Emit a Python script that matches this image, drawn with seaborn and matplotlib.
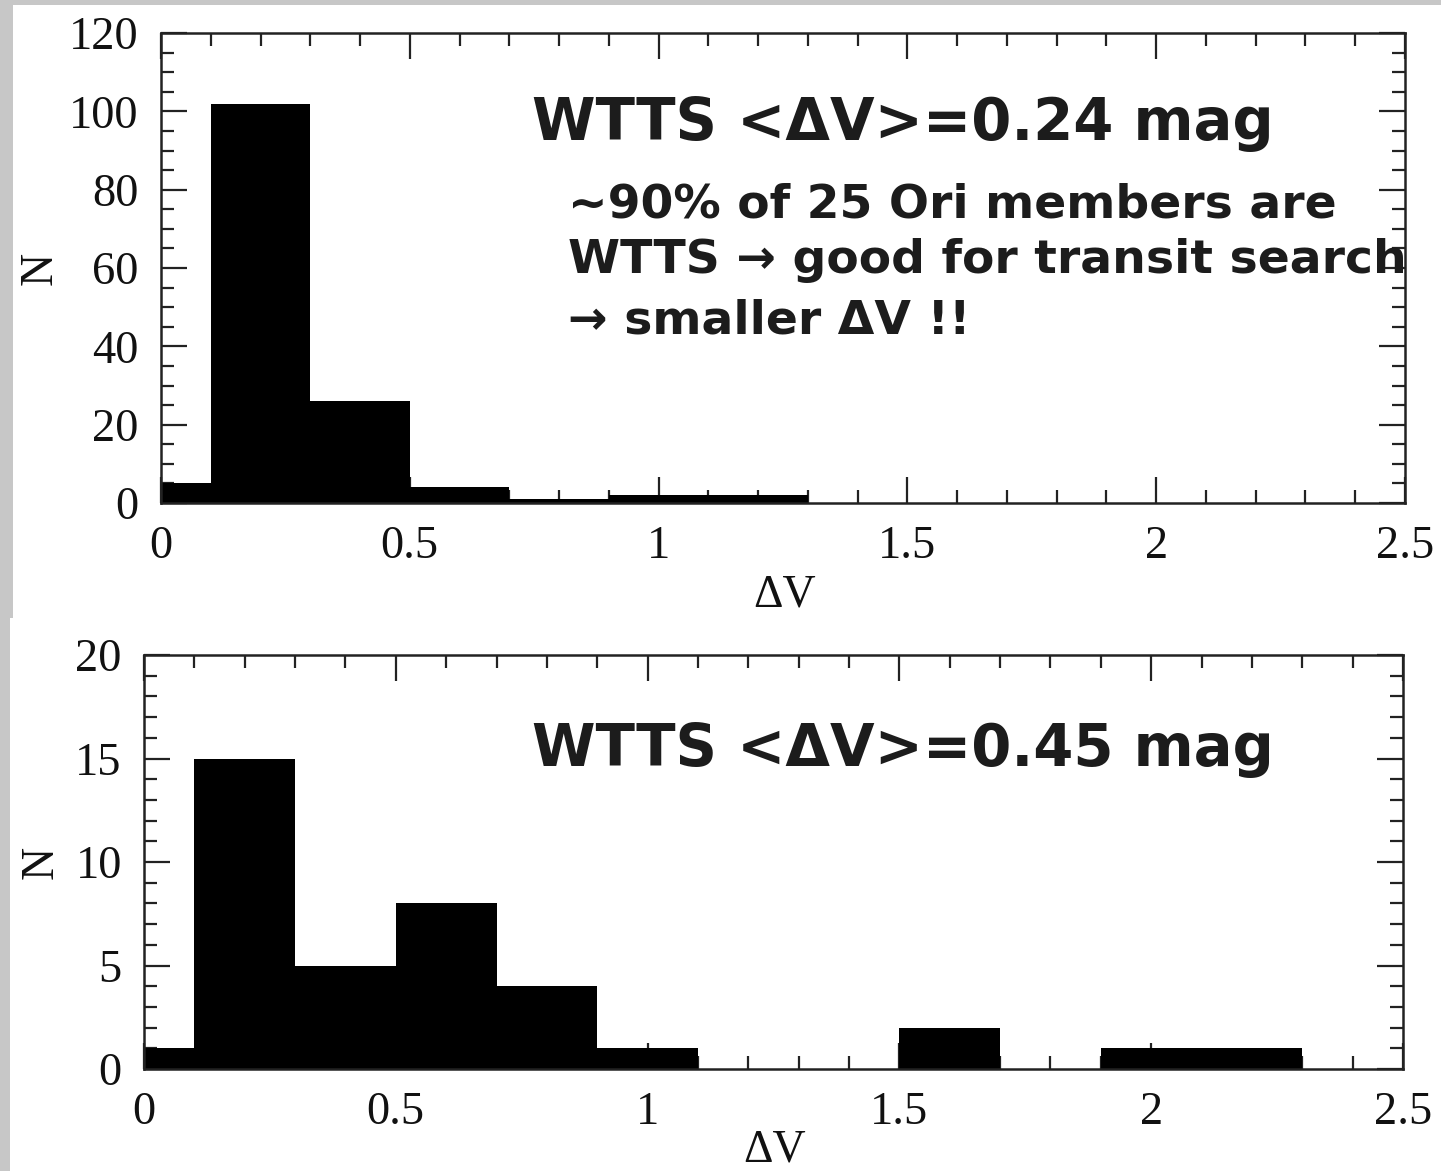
import numpy as np
import pandas as pd
import matplotlib
matplotlib.use("Agg")
import matplotlib.pyplot as plt
from matplotlib.patches import Rectangle
from matplotlib.ticker import MultipleLocator
import seaborn as sns

# Histogram bins (edges every 0.2 mag, first bin centred on 0)
bin_edges = [-0.1, 0.1, 0.3, 0.5, 0.7, 0.9, 1.1, 1.3, 1.5, 1.7, 1.9, 2.1, 2.3, 2.5]
bin_centers = [0.0, 0.2, 0.4, 0.6, 0.8, 1.0, 1.2, 1.4, 1.6, 1.8, 2.0, 2.2, 2.4]

# Counts per bin: all 25 Ori members (top) and the second sample (bottom)
counts_top = [5, 102, 26, 4, 1, 2, 2, 0, 0, 0, 0, 0, 0]
counts_bottom = [1, 15, 5, 8, 4, 1, 0, 0, 2, 0, 1, 1, 0]

x_label = "\u0394V"
y_label = "N"
title_top = "WTTS <\u0394V>=0.24 mag"
title_bottom = "WTTS <\u0394V>=0.45 mag"
note_lines = [
    "~90% of 25 Ori members are",
    "WTTS \u2192 good for transit search",
    "\u2192 smaller \u0394V !!",
]

sns.set_style("ticks")
plt.rcParams["font.family"] = ["Liberation Serif", "DejaVu Serif"]

W, H = 1441, 1171
fig = plt.figure(figsize=(W / 100, H / 100), dpi=100)
fig.patch.set_facecolor("#c7c7c7")


def fx(x):
    return x / W


def fy(y):
    return 1 - y / H


# white slide panels behind each plot
fig.patches.append(Rectangle((fx(13), fy(618)), fx(W - 13), (618 - 5) / H,
                             transform=fig.transFigure, facecolor="white",
                             edgecolor="none", zorder=-5))
fig.patches.append(Rectangle((fx(10), 0), fx(W - 10), (H - 618) / H,
                             transform=fig.transFigure, facecolor="white",
                             edgecolor="none", zorder=-5))


def make_axes(l, r, t, b):
    ax = fig.add_axes([fx(l), fy(b), (r - l) / W, (b - t) / H])
    ax.set_facecolor("none")
    ax.set_zorder(2)
    return ax


ax1 = make_axes(161, 1405, 33, 503)
ax2 = make_axes(144, 1403, 655, 1069)

for ax, counts, ymax, ymaj, ymin in [
    (ax1, counts_top, 120, 20, 5),
    (ax2, counts_bottom, 20, 5, 1),
]:
    df = pd.DataFrame({"dv": bin_centers, "n": counts})
    sns.histplot(data=df, x="dv", weights="n", bins=bin_edges, ax=ax,
                 color="black", alpha=1, linewidth=0, element="bars",
                 stat="count", legend=False)
    ax.set_xlim(0, 2.5)
    ax.set_ylim(0, ymax)
    ax.xaxis.set_major_locator(MultipleLocator(0.5))
    ax.xaxis.set_minor_locator(MultipleLocator(0.1))
    ax.yaxis.set_major_locator(MultipleLocator(ymaj))
    ax.yaxis.set_minor_locator(MultipleLocator(ymin))
    ax.xaxis.set_major_formatter(plt.FuncFormatter(lambda v, p: f"{v:g}"))
    ax.tick_params(which="both", direction="in", top=True, right=True,
                   color="#222222", width=1.6, labelsize=33.5, pad=16,
                   labelcolor="#111111")
    ax.tick_params(which="major", length=19)
    ax.tick_params(which="minor", length=9.5)
    for s in ax.spines.values():
        s.set_visible(True)
        s.set_linewidth(1.8)
        s.set_color("#222222")
        s.set_zorder(5)
    ax.set_xlabel(x_label, fontsize=33, color="#111111")
    ax.set_ylabel(y_label, fontsize=33, color="#111111")

ax1.xaxis.set_label_coords(0.5016, -0.152)
ax1.yaxis.set_label_coords(-0.080, 0.5)
ax2.xaxis.set_label_coords(0.501, -0.145)
ax2.yaxis.set_label_coords(-0.065, 0.5)

sans = ["DejaVu Sans"]
fig.text(fx(532), fy(140), title_top, fontsize=41.5, fontweight="bold",
         family=sans, color="#1c1c1c", va="baseline", ha="left", zorder=10)
fig.text(fx(532), fy(766), title_bottom, fontsize=41.5, fontweight="bold",
         family=sans, color="#1c1c1c", va="baseline", ha="left", zorder=10)
for line, base in zip(note_lines, [217, 273, 333]):
    fig.text(fx(568), fy(base), line, fontsize=34, fontweight="bold",
             family=sans, color="#1c1c1c", va="baseline", ha="left", zorder=10)

fig.savefig("out.png", dpi=100, facecolor=fig.get_facecolor())
